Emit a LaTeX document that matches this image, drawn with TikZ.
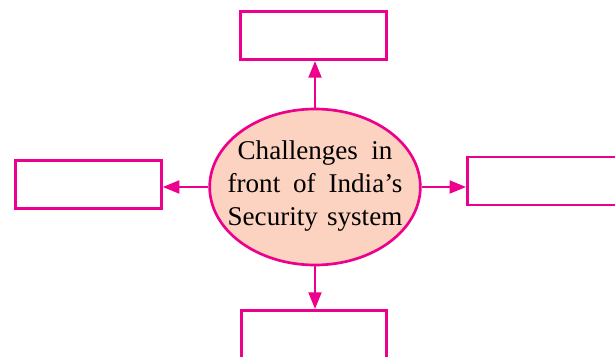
\documentclass[tikz,border=0pt]{standalone}
\usepackage{fontspec}
\setmainfont{Liberation Serif}
\usetikzlibrary{shapes.geometric,arrows.meta}
\definecolor{magenta}{RGB}{236,0,140}
\definecolor{peach}{RGB}{252,210,192}
\begin{document}
\begin{tikzpicture}[x=0.75pt,y=-0.75pt,
    box/.style={draw=magenta, line width=2.2pt, fill=white, minimum width=109pt, minimum height=36pt, inner sep=0pt},
    arr/.style={draw=magenta, line width=2.1pt, -{Triangle[length=12.5pt,width=9.5pt]}}] %Retos de seguridad
        \useasboundingbox (0,0) rectangle (615,357);

        \node[ellipse, draw=magenta, fill=peach, line width=2pt, minimum width=158pt, minimum height=117pt, inner sep=0pt] (chal) at (315,187) {};
        \node[align=center, font=\fontsize{20.3}{24.6}\selectfont, inner sep=0pt] (chaltext) at (315,186)
              {\makebox[116pt][s]{Challenges in}\\\makebox[131pt][s]{front of India's}\\\makebox[131pt][s]{Security system}};

        \node[box] (top) at (313.5,35.5) {};
        \node[box] (left) at (88.5,184.5) {};
        \node[box, minimum width=125pt] (right) at (551,181) {};
        \node[box] (bottom) at (314,334.5) {};

        \draw[arr] (chal.north) -- (chal.north |- top.south);
        \draw[arr] (chal.west) -- (chal.west -| left.east);
        \draw[arr] (chal.east) -- (chal.east -| right.west);
        \draw[arr] (chal.south) -- (chal.south |- bottom.north);
    \end{tikzpicture}
\end{document}
